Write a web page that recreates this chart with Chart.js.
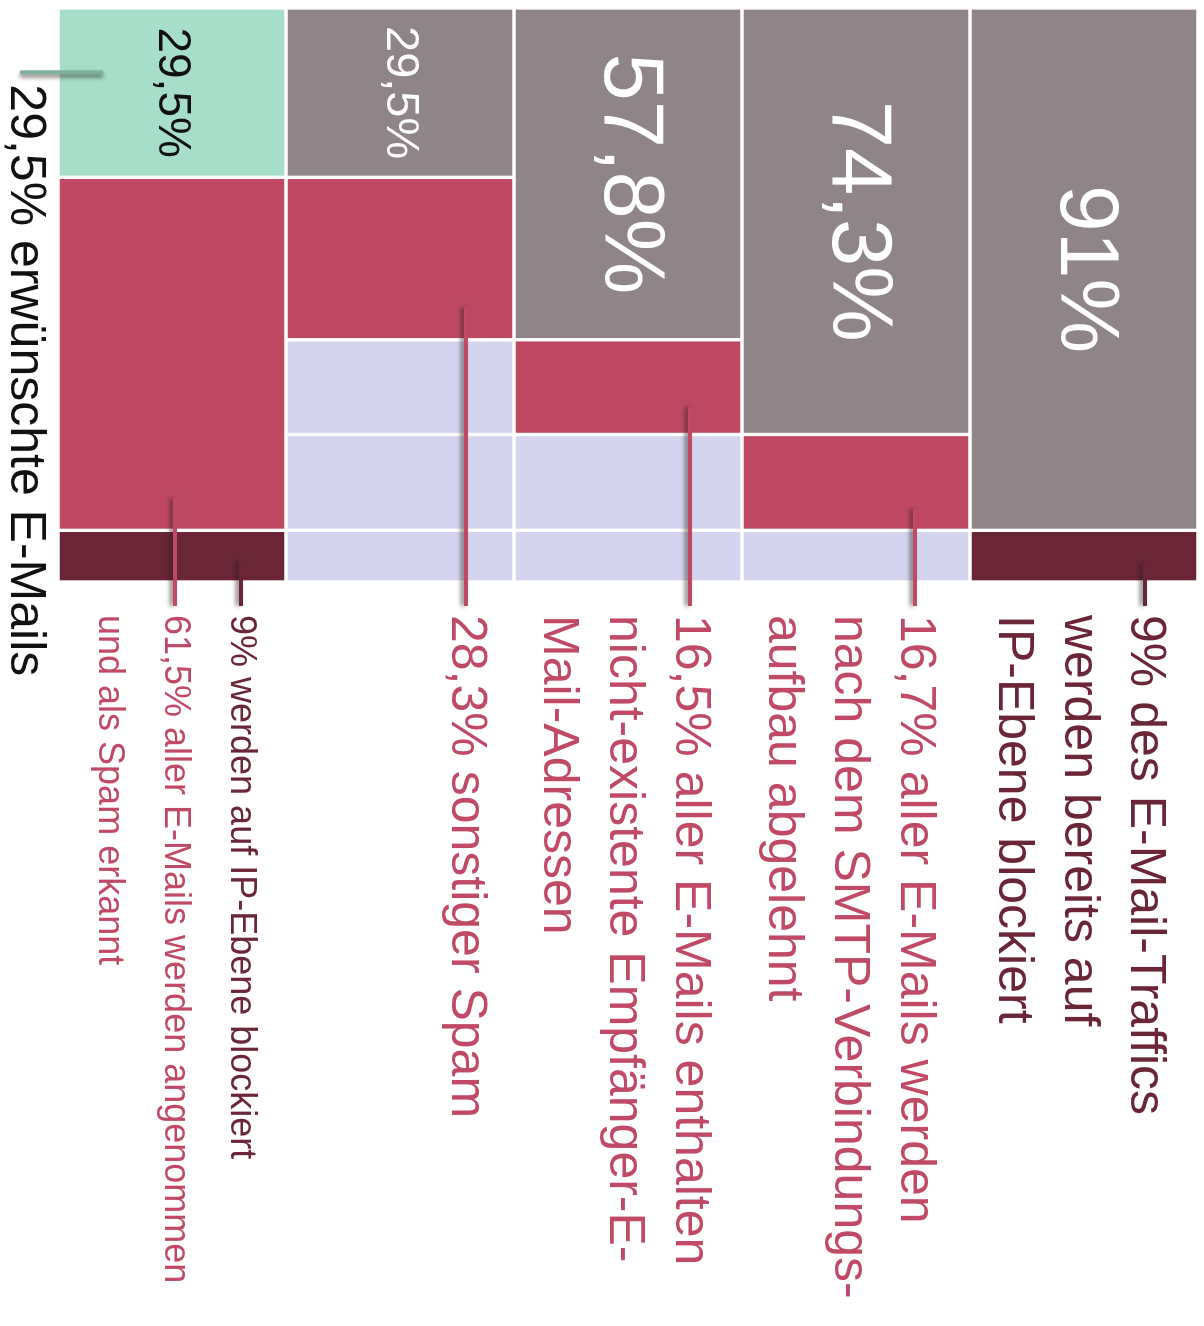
<!DOCTYPE html>
<html>
<head>
<meta charset="utf-8">
<script src="https://cdn.jsdelivr.net/npm/chart.js@4.4.0/dist/chart.umd.min.js"></script>
<style>
  html, body { margin: 0; padding: 0; background: #fff; }
  #wrap { position: relative; width: 1204px; height: 1326px; overflow: hidden; }
  /* chart is drawn lying on its side, then turned 90deg clockwise */
  #chart { position: absolute; left: 0; top: 0; transform-origin: 0 0; transform: translate(1204px, 0) rotate(90deg); }
</style>
</head>
<body>
<div id="wrap"><canvas id="chart" width="1326" height="1204"></canvas></div>
<script>
// stages of the mail filter, from the first (IP) to the final result
const stages = ['IP-Ebene', 'SMTP-Verbindung', 'Empfänger', 'Spamfilter', 'Ergebnis'];
const topLabels = ['91%', '74,3%', '57,8%', '29,5%', '29,5%'];

// stacked parts of each bar, in percent of all traffic
const part1 = [91, 74.3, 57.8, 29.5, 29.5];
const part2 = [9, 16.7, 16.5, 28.3, 61.5];
const part3 = [null, 9, 16.7, 16.5, 9];
const part4 = [null, null, 9, 16.7, null];
const part5 = [null, null, null, 9, null];

const GRAY = '#8f8487';
const GREEN = '#a6dec9';
const RED = '#bf4963';
const DARK = '#6a2637';
const LAV = '#d4d4ee';
const PINK = '#c04a66';
const FONT = '"Liberation Sans", Arial, sans-serif';

const notes = [
  { bar: 0, offset: 53, size: 50, lines: [
    { text: '9% des E-Mail-Traffics', color: DARK, seg: 1, at: 0.64 },
    { text: 'werden bereits auf', color: DARK },
    { text: 'IP-Ebene blockiert', color: DARK } ] },
  { bar: 1, offset: 55, size: 50, lines: [
    { text: '16,7% aller E-Mails werden', color: PINK, seg: 1, at: 0.78 },
    { text: 'nach dem SMTP-Verbindungs-', color: PINK },
    { text: 'aufbau abgelehnt', color: PINK } ] },
  { bar: 2, offset: 52, size: 50, lines: [
    { text: '16,5% aller E-Mails enthalten', color: PINK, seg: 1, at: 0.71 },
    { text: 'nicht-existente Empfänger-E-', color: PINK },
    { text: 'Mail-Adressen', color: PINK } ] },
  { bar: 3, offset: 48, size: 50, lines: [
    { text: '28,3% sonstiger Spam', color: PINK, seg: 1, at: 0.8 } ] },
  { bar: 4, offset: 45, size: 36, lines: [
    { text: '9% werden auf IP-Ebene blockiert', color: DARK, seg: 2, at: 0.6 },
    { text: '61,5% aller E-Mails werden angenommen', color: PINK, seg: 1, at: 0.91 },
    { text: 'und als Spam erkannt', color: PINK } ] }
];

function drawLeader(ctx, x0, y0, x1, y1, color, sx, sy) {
  ctx.save();
  ctx.shadowColor = 'rgba(40,30,30,0.6)';
  ctx.shadowBlur = 4;
  ctx.shadowOffsetX = sx;
  ctx.shadowOffsetY = sy;
  ctx.strokeStyle = color;
  ctx.lineWidth = 4;
  ctx.beginPath();
  ctx.moveTo(x0, y0);
  ctx.lineTo(x1, y1);
  ctx.stroke();
  ctx.restore();
}

const notesPlugin = {
  id: 'notes',
  afterDatasetsDraw(chart) {
    const ctx = chart.ctx;
    const area = chart.chartArea;
    const first = chart.getDatasetMeta(0).data;
    ctx.save();

    // big numbers in the first part of each bar
    const numSize = [84, 85, 85, 47, 46];
    const numColor = ['#fff', '#fff', '#fff', '#fff', '#111'];
    ctx.textAlign = 'center';
    ctx.textBaseline = 'middle';
    first.forEach((bar, i) => {
      ctx.font = numSize[i] + 'px ' + FONT;
      ctx.fillStyle = numColor[i];
      ctx.fillText(topLabels[i], (bar.x + bar.base) / 2, bar.y);
    });

    // notes with leader lines
    ctx.textAlign = 'left';
    notes.forEach(n => {
      const bar = first[n.bar];
      const top = bar.y - bar.height / 2;
      n.lines.forEach((ln, k) => {
        const y = top + n.offset + k * 66;
        if (ln.seg != null) {
          const seg = chart.getDatasetMeta(ln.seg).data[n.bar];
          const x0 = seg.base + ln.at * (seg.x - seg.base);
          drawLeader(ctx, x0, y, area.right + 24, y, ln.color, 0, 3);
        }
        ctx.font = n.size + 'px ' + FONT;
        ctx.fillStyle = ln.color;
        ctx.fillText(ln.text, area.right + 33, y);
      });
    });

    // caption for the wanted mails
    const green = first[4];
    const gx = green.base + 0.38 * (green.x - green.base);
    drawLeader(ctx, gx, area.bottom - 45, gx, area.bottom + 38, '#7fb09b', 3, 0);
    ctx.font = '50px ' + FONT;
    ctx.fillStyle = '#111';
    ctx.fillText('29,5% erwünschte E-Mails', gx + 12, area.bottom + 33);

    ctx.restore();
  }
};

function ds(label, data, colors) {
  return {
    label: label,
    data: data,
    backgroundColor: colors,
    borderColor: '#fff',
    borderWidth: 2,
    borderSkipped: false,
    barPercentage: 1,
    categoryPercentage: 1
  };
}

Chart.defaults.font.family = FONT;

new Chart(document.getElementById('chart'), {
  type: 'bar',
  data: {
    labels: stages,
    datasets: [
      ds('Teil 1', part1, [GRAY, GRAY, GRAY, GRAY, GREEN]),
      ds('Teil 2', part2, [DARK, RED, RED, RED, RED]),
      ds('Teil 3', part3, [LAV, LAV, LAV, LAV, DARK]),
      ds('Teil 4', part4, LAV),
      ds('Teil 5', part5, LAV)
    ]
  },
  options: {
    indexAxis: 'y',
    responsive: false,
    animation: false,
    devicePixelRatio: 1,
    layout: { padding: { left: 8, top: 6, right: 744, bottom: 58 } },
    scales: {
      x: { stacked: true, min: 0, max: 100, display: false },
      y: { stacked: true, display: false }
    },
    plugins: {
      legend: { display: false },
      tooltip: { enabled: false }
    }
  },
  plugins: [notesPlugin]
});
</script>
</body>
</html>
